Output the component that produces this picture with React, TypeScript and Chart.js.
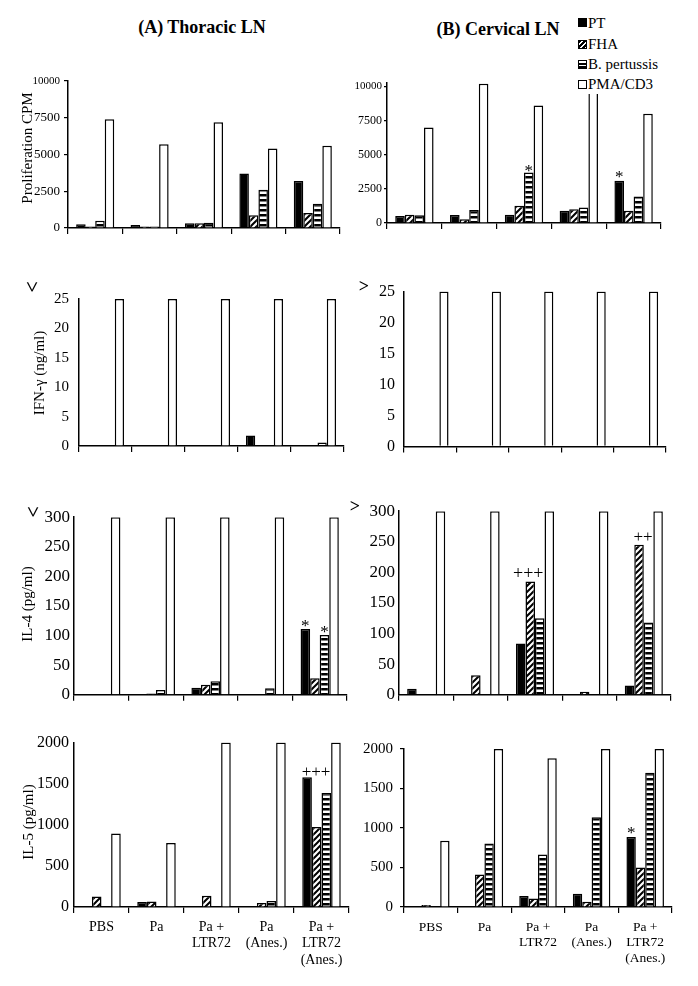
import React, { useEffect, useRef } from "react";
import { Chart, registerables } from "chart.js";

Chart.register(...registerables);

const FONT = "'Liberation Serif', 'Times New Roman', Times, serif";

// ---------- data ----------
const categories: string[][] = [["PBS"], ["Pa"], ["Pa +", "LTR72"], ["Pa", "(Anes.)"], ["Pa +", "LTR72", "(Anes.)"]];
const seriesNames = ["PT", "FHA", "B. pertussis", "PMA/CD3"];
const panelTitles = ["(A) Thoracic LN", "(B) Cervical LN"];
const yTitles = ["Proliferation CPM", "IFN-\u03b3 (ng/ml)", "IL-4 (pg/ml)", "IL-5 (pg/ml)"];

const prolifTicks = [0, 2500, 5000, 7500, 10000];
const ifnTicks = [0, 5, 10, 15, 20, 25];
const il4Ticks = [0, 50, 100, 150, 200, 250, 300];
const il5Ticks = [0, 500, 1000, 1500, 2000];

// (A) Thoracic LN - proliferation CPM
const thoracicProlifPT = [250, 200, 330, 3700, 3200];
const thoracicProlifFHA = [100, 100, 330, 860, 1020];
const thoracicProlifBp = [500, 100, 350, 2600, 1650];
const thoracicProlifPMA = [7400, 5700, 7200, 5400, 5600];
// (B) Cervical LN - proliferation CPM
const cervicalProlifPT = [510, 580, 600, 900, 3100];
const cervicalProlifFHA = [600, 270, 1260, 1000, 900];
const cervicalProlifBp = [560, 950, 3690, 1140, 1940];
const cervicalProlifPMA = [7000, 10200, 8600, 12000, 8000];

// IFN-gamma (ng/ml)
const thoracicIfnPT = [0, 0, 0, 1.8, 0];
const thoracicIfnFHA = [0, 0, 0, 0, 0];
const thoracicIfnBp = [0, 0, 0, 0, 0.6];
const thoracicIfnPMA = [25, 25, 25, 25, 25];
const cervicalIfnPT = [0, 0, 0, 0, 0];
const cervicalIfnFHA = [0, 0, 0, 0, 0];
const cervicalIfnBp = [0, 0, 0, 0, 0];
const cervicalIfnPMA = [25, 25, 25, 25, 25];

// IL-4 (pg/ml)
const thoracicIl4PT = [0, 0, 12, 0, 111];
const thoracicIl4FHA = [0, 2, 17, 0, 28];
const thoracicIl4Bp = [0, 8, 23, 11, 101];
const thoracicIl4PMA = [300, 300, 300, 300, 300];
const cervicalIl4PT = [10, 0, 84, 0, 15];
const cervicalIl4FHA = [0, 32, 185, 5, 245];
const cervicalIl4Bp = [0, 0, 125, 0, 118];
const cervicalIl4PMA = [300, 300, 300, 300, 300];

// IL-5 (pg/ml)
const thoracicIl5PT = [0, 60, 0, 0, 1577];
const thoracicIl5FHA = [128, 68, 136, 48, 972];
const thoracicIl5Bp = [0, 0, 0, 72, 1388];
const thoracicIl5PMA = [893, 780, 2000, 2000, 2000];
const cervicalIl5PT = [0, 0, 139, 168, 887];
const cervicalIl5FHA = [25, 410, 107, 65, 500];
const cervicalIl5Bp = [0, 805, 665, 1137, 1700];
const cervicalIl5PMA = [838, 2000, 1884, 2000, 2000];

// ---------- layout ----------
type Annot = { ds: number; idx: number; text: string; size: number; gap: number; dx: number };
type PanelCfg = {
  key: string;
  values: number[][];
  left: number; top: number; width: number; height: number;
  yWidth: number; xHeight: number; padRight: number;
  ticks: number[]; max: number;
  tickFont: number; bigTickFont?: number;
  yTickLen: number; yTickPad: number;
  showLabels: boolean; labelFont?: number;
  annots: Annot[];
};

const panels: PanelCfg[] = [
  {
    key: "a1", values: [thoracicProlifPT, thoracicProlifFHA, thoracicProlifBp, thoracicProlifPMA],
    left: 0, top: 69, width: 352, height: 171, yWidth: 68, xHeight: 12, padRight: 12,
    ticks: prolifTicks, max: 10000, tickFont: 13, bigTickFont: 11, yTickLen: 4, yTickPad: 4,
    showLabels: false, annots: [],
  },
  {
    key: "b1", values: [cervicalProlifPT, cervicalProlifFHA, cervicalProlifBp, cervicalProlifPMA],
    left: 340, top: 71, width: 333, height: 164, yWidth: 47, xHeight: 12, padRight: 12,
    ticks: prolifTicks, max: 10250, tickFont: 12, bigTickFont: 11, yTickLen: 3, yTickPad: 2,
    showLabels: false,
    annots: [
      { ds: 2, idx: 2, text: "*", size: 17, gap: 5.5, dx: 0 },
      { ds: 0, idx: 4, text: "*", size: 17, gap: 7, dx: 0 },
    ],
  },
  {
    key: "a2", values: [thoracicIfnPT, thoracicIfnFHA, thoracicIfnBp, thoracicIfnPMA],
    left: 0, top: 280, width: 356, height: 185, yWidth: 79, xHeight: 12, padRight: 12,
    ticks: ifnTicks, max: 25, tickFont: 15, yTickLen: 0, yTickPad: 10,
    showLabels: false, annots: [],
  },
  {
    key: "b2", values: [cervicalIfnPT, cervicalIfnFHA, cervicalIfnBp, cervicalIfnPMA],
    left: 340, top: 273, width: 338, height: 192, yWidth: 64, xHeight: 12, padRight: 12,
    ticks: ifnTicks, max: 25, tickFont: 16, yTickLen: 0, yTickPad: 9,
    showLabels: false, annots: [],
  },
  {
    key: "a3", values: [thoracicIl4PT, thoracicIl4FHA, thoracicIl4Bp, thoracicIl4PMA],
    left: 0, top: 503, width: 359, height: 206, yWidth: 74, xHeight: 12, padRight: 12,
    ticks: il4Ticks, max: 300, tickFont: 17, yTickLen: 0, yTickPad: 4,
    showLabels: false,
    annots: [
      { ds: 0, idx: 4, text: "*", size: 17, gap: 7, dx: 0 },
      { ds: 2, idx: 4, text: "*", size: 17, gap: 7, dx: 0 },
    ],
  },
  {
    key: "b3", values: [cervicalIl4PT, cervicalIl4FHA, cervicalIl4Bp, cervicalIl4PMA],
    left: 340, top: 497, width: 343, height: 212, yWidth: 59, xHeight: 12, padRight: 12,
    ticks: il4Ticks, max: 300, tickFont: 17, yTickLen: 0, yTickPad: 4,
    showLabels: false,
    annots: [
      { ds: 1, idx: 2, text: "+++", size: 18, gap: 7.5, dx: -2 },
      { ds: 1, idx: 4, text: "++", size: 17, gap: 7, dx: 4 },
    ],
  },
  {
    key: "a4", values: [thoracicIl5PT, thoracicIl5FHA, thoracicIl5Bp, thoracicIl5PMA],
    left: 0, top: 728, width: 361, height: 258, yWidth: 74, xHeight: 79, padRight: 12,
    ticks: il5Ticks, max: 2000, tickFont: 16, yTickLen: 0, yTickPad: 5,
    showLabels: true, labelFont: 14,
    annots: [{ ds: 0, idx: 4, text: "+++", size: 17, gap: 5, dx: 9 }],
  },
  {
    key: "b4", values: [cervicalIl5PT, cervicalIl5FHA, cervicalIl5Bp, cervicalIl5PMA],
    left: 340, top: 733, width: 344, height: 253, yWidth: 64, xHeight: 79, padRight: 12,
    ticks: il5Ticks, max: 2000, tickFont: 15, yTickLen: 4, yTickPad: 7,
    showLabels: true, labelFont: 13.5,
    annots: [{ ds: 0, idx: 4, text: "*", size: 17, gap: 7, dx: 0 }],
  },
];

function diagPattern(ctx: CanvasRenderingContext2D) {
  const c = document.createElement("canvas");
  c.width = 6; c.height = 6;
  const g = c.getContext("2d")!;
  g.fillStyle = "#fff"; g.fillRect(0, 0, 6, 6);
  g.strokeStyle = "#000"; g.lineWidth = 2;
  g.beginPath();
  g.moveTo(-1, 7); g.lineTo(7, -1);
  g.moveTo(-1, 1); g.lineTo(1, -1);
  g.moveTo(5, 7); g.lineTo(7, 5);
  g.stroke();
  return ctx.createPattern(c, "repeat")!;
}

function horizPattern(ctx: CanvasRenderingContext2D) {
  const c = document.createElement("canvas");
  c.width = 4; c.height = 5;
  const g = c.getContext("2d")!;
  g.fillStyle = "#fff"; g.fillRect(0, 0, 4, 5);
  g.fillStyle = "#000"; g.fillRect(0, 0, 4, 2.5);
  return ctx.createPattern(c, "repeat")!;
}

function Panel({ cfg }: { cfg: PanelCfg }) {
  const ref = useRef<HTMLCanvasElement>(null);
  useEffect(() => {
    const canvas = ref.current!;
    const ctx = canvas.getContext("2d")!;
    const fills: any[] = ["#000", diagPattern(ctx), horizPattern(ctx), "#fff"];
    const annotPlugin = {
      id: "annot_" + cfg.key,
      afterDatasetsDraw(chart: any) {
        const c = chart.ctx;
        c.save();
        c.fillStyle = "#000";
        c.textAlign = "center";
        c.textBaseline = "alphabetic";
        cfg.annots.forEach((a) => {
          const el = chart.getDatasetMeta(a.ds).data[a.idx];
          const gc = a.text.startsWith("*") ? 0.5 : 0.27;
          c.font = `${a.size}px ${FONT}`;
          c.fillText(a.text, el.x + a.dx, el.y - a.gap + gc * a.size);
        });
        c.restore();
      },
    };
    const tickVals = cfg.ticks;
    const chart = new Chart(ctx, {
      type: "bar",
      data: {
        labels: categories,
        datasets: seriesNames.map((name, i) => ({
          label: name,
          data: cfg.values[i],
          backgroundColor: fills[i],
          borderColor: "#000",
          borderWidth: 1.5,
          categoryPercentage: 0.7,
          barPercentage: 1,
        })),
      },
      options: {
        responsive: false,
        animation: false,
        events: [],
        layout: { padding: { top: 12, right: cfg.padRight, left: 0, bottom: 0 } },
        plugins: { legend: { display: false }, tooltip: { enabled: false }, title: { display: false } },
        scales: {
          x: {
            grid: { display: true, drawOnChartArea: false, drawTicks: true, tickLength: 6, color: "#000", lineWidth: 1.2, offset: true },
            border: { display: true, color: "#000", width: 1.5 },
            ticks: {
              display: cfg.showLabels,
              color: "#000",
              font: { family: FONT, size: cfg.labelFont || 14, lineHeight: 1.18 },
              padding: 6,
              maxRotation: 0,
              autoSkip: false,
            },
            afterFit: (s: any) => { s.height = cfg.xHeight; },
          },
          y: {
            min: 0,
            max: cfg.max,
            grid: { display: true, drawOnChartArea: false, drawTicks: cfg.yTickLen > 0, tickLength: cfg.yTickLen, color: "#000", lineWidth: 1.2 },
            border: { display: true, color: "#000", width: 1.5 },
            afterBuildTicks: (s: any) => { s.ticks = tickVals.map((v) => ({ value: v })); },
            ticks: {
              color: "#000",
              padding: cfg.yTickPad,
              callback: (v: any) => String(v),
              font: (c: any) => ({
                family: FONT,
                size: cfg.bigTickFont && c.tick && c.tick.value >= 10000 ? cfg.bigTickFont : cfg.tickFont,
              }),
            },
            afterFit: (s: any) => { s.width = cfg.yWidth; },
          },
        },
      } as any,
      plugins: [annotPlugin],
    });
    return () => chart.destroy();
  }, []);
  return (
    <canvas
      ref={ref}
      width={cfg.width}
      height={cfg.height}
      style={{ position: "absolute", left: cfg.left, top: cfg.top, width: cfg.width, height: cfg.height }}
    />
  );
}

const abs = (x: number, y: number, extra: any = {}) => ({
  position: "absolute" as const,
  left: x,
  top: y,
  transform: "translate(-50%, -50%)",
  whiteSpace: "nowrap" as const,
  fontFamily: FONT,
  color: "#000",
  lineHeight: 1,
  ...extra,
});

const yTitlePos = [
  { x: 27, y: 148 },
  { x: 39, y: 373 },
  { x: 27, y: 604 },
  { x: 28, y: 822 },
];

const swatchStyles: any[] = [
  { background: "#000" },
  { background: "repeating-linear-gradient(135deg, #000 0 2px, #fff 2px 3.5px)" },
  { background: "repeating-linear-gradient(0deg, #000 0 2px, #fff 2px 3.5px)" },
  { background: "#fff" },
];
const legendRowY = [22.7, 44.3, 64, 84.3];

export default function App() {
  return (
    <div style={{ position: "absolute", left: 0, top: 0, width: 698, height: 986, background: "#fff", overflow: "hidden" }}>
      {panels.map((p) => (
        <Panel key={p.key} cfg={p} />
      ))}
      <div style={abs(202, 27, { fontSize: 18, fontWeight: "bold" })}>{panelTitles[0]}</div>
      <div style={abs(498, 29, { fontSize: 18, fontWeight: "bold" })}>{panelTitles[1]}</div>
      {yTitles.map((t, i) => (
        <div key={t} style={abs(yTitlePos[i].x, yTitlePos[i].y, { fontSize: 15, transform: "translate(-50%, -50%) rotate(-90deg)" })}>{t}</div>
      ))}
      <div style={abs(32, 287, { fontSize: 20, fontWeight: "bold", transform: "translate(-50%, -50%) rotate(90deg)" })}>&gt;</div>
      <div style={abs(33, 512, { fontSize: 20, fontWeight: "bold", transform: "translate(-50%, -50%) rotate(90deg)" })}>&gt;</div>
      <div style={abs(364, 286, { fontSize: 18, fontWeight: "bold" })}>&gt;</div>
      <div style={abs(355, 506, { fontSize: 18, fontWeight: "bold" })}>&gt;</div>
      <div style={{ position: "absolute", left: 574, top: 11, width: 124, height: 83, background: "#fff" }} />
      {seriesNames.map((n, i) => (
        <React.Fragment key={n}>
          <div
            style={{
              position: "absolute",
              left: 578,
              top: legendRowY[i] - 4.5,
              width: 9,
              height: 9,
              boxSizing: "border-box",
              border: "1.2px solid #000",
              ...swatchStyles[i],
            }}
          />
          <div style={{ position: "absolute", left: 588, top: legendRowY[i] - 9, fontFamily: FONT, fontSize: 15, lineHeight: "18px", whiteSpace: "nowrap", color: "#000" }}>{n}</div>
        </React.Fragment>
      ))}
    </div>
  );
}
